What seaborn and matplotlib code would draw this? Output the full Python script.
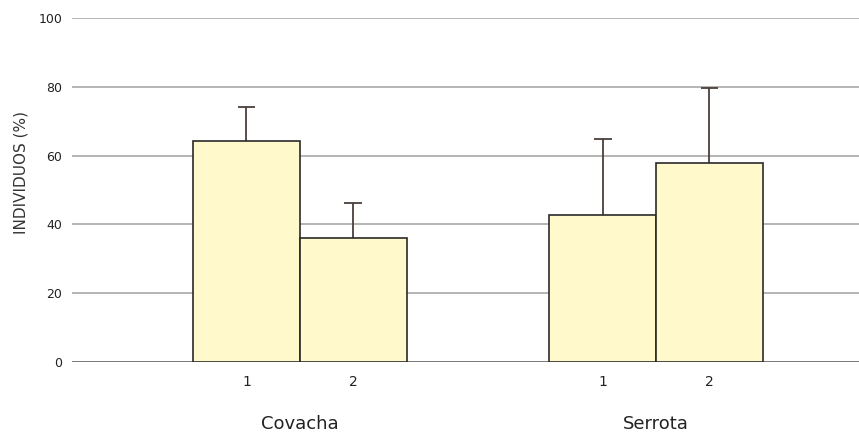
import matplotlib
matplotlib.use("Agg")
import matplotlib.pyplot as plt
import seaborn as sns
import pandas as pd
import numpy as np

sites = ["Covacha", "Covacha", "Serrota", "Serrota"]
groups = ["1", "2", "1", "2"]
values = [64.2, 36.0, 42.7, 57.8]
errors = [10.0, 10.2, 22.1, 21.8]
yticks = [0, 20, 40, 60, 80, 100]

df = pd.DataFrame({"site": sites, "group": groups, "value": values})

sns.set_theme(style="white")
plt.rcParams["font.family"] = ["DejaVu Sans"]

fig = plt.figure(figsize=(8.59, 4.34), dpi=100)
ax = fig.add_axes([72 / 859, 1 - 362 / 434, 1 - 72 / 859, (362 - 18) / 434])

sns.barplot(data=df, x="site", y="value", hue="group", ax=ax,
            palette=["#FFF9CC", "#FFF9CC"], saturation=1, edgecolor="#2a2a2a", linewidth=1.2,
            width=0.6, errorbar=None, legend=False, zorder=3)

order_x = {}
for gi, container in enumerate(ax.containers):
    for si, bar in enumerate(container):
        order_x[(["Covacha", "Serrota"][si], ["1", "2"][gi])] = bar.get_x() + bar.get_width() / 2

bar_x = [order_x[(s, g)] for s, g in zip(sites, groups)]
for x, v, e in zip(bar_x, values, errors):
    ax.vlines(x, v, v + e, color="#4a3f3a", lw=1.3, zorder=2)
    ax.hlines(v + e, x - 0.025, x + 0.025, color="#4a3f3a", lw=1.3, zorder=2)

ax.set_ylim(0, 100)
ax.set_xlim(-0.640, 1.570)
ax.set_yticks(yticks)
ax.set_yticklabels([str(t) for t in yticks], fontsize=9, color="#222222")
for t in yticks:
    ax.axhline(t, color="#a0a0a0" if t > 0 else "#555555", lw=1.1, zorder=1)

ax.set_xticks(bar_x)
ax.set_xticklabels(groups, fontsize=10, color="#222222")
ax.tick_params(axis="both", length=0)
ax.tick_params(axis="y", pad=7)
ax.tick_params(axis="x", pad=9)
ax.set_xlabel("")
ax.set_ylabel("INDIVIDUOS (%)", fontsize=11, color="#333333", labelpad=7)
ax.yaxis.label.set_position((0, 0.55))

for name, cx in [("Covacha", 0), ("Serrota", 1)]:
    ax.text(cx, -0.18, name, transform=ax.get_xaxis_transform(), ha="center", va="center",
            fontsize=13, color="#222222")

for s in ax.spines.values():
    s.set_visible(False)

fig.savefig("out.png", dpi=100)
